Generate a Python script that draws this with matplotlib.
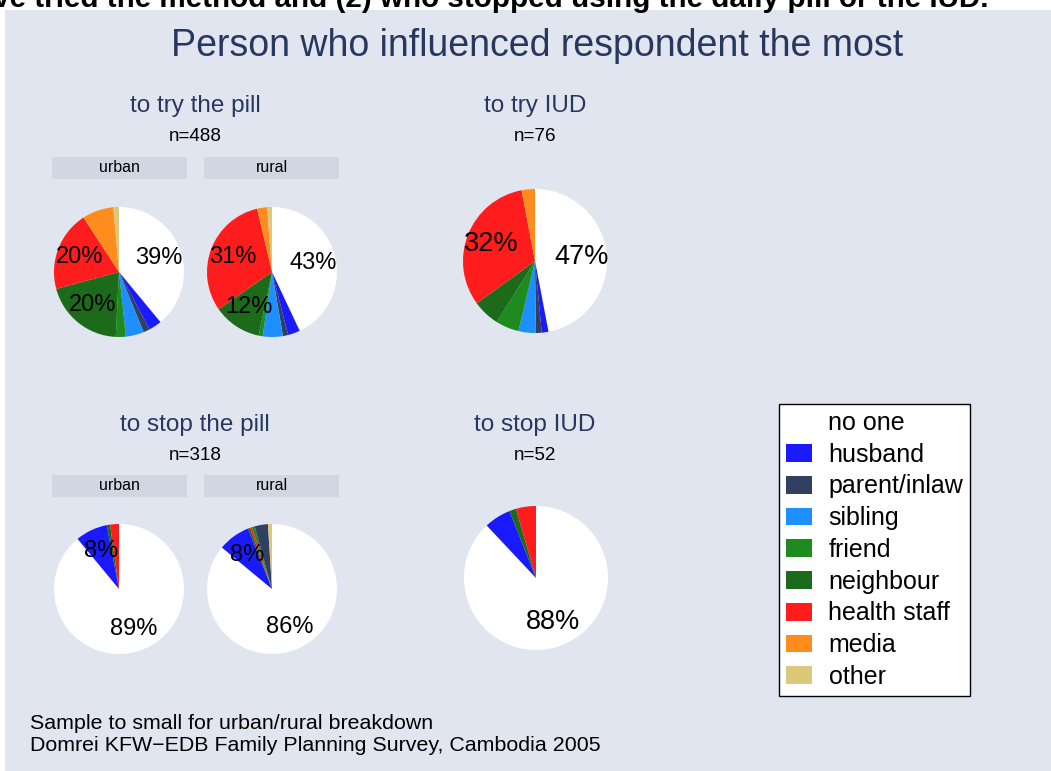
import matplotlib
matplotlib.use("Agg")
import numpy as np
import matplotlib.pyplot as plt
from matplotlib.patches import Patch, Rectangle

plt.rcParams['font.family'] = ['Liberation Sans', 'DejaVu Sans']

# influence categories and their colours
categories = ['no one', 'husband', 'parent/inlaw', 'sibling', 'friend',
              'neighbour', 'health staff', 'media', 'other']
cat_colors = ['#ffffff', '#1a1aff', '#313f63', '#1e8fff', '#1d8b1d',
              '#1b6b1b', '#ff1c1c', '#ff8c1c', '#dcc878']

# shares in percent, in the order of `categories`
try_pill_urban = [39, 3.2, 1.6, 4.5, 2.5, 20, 20, 7.8, 1.4]
try_pill_rural = [43, 3, 1.3, 5, 1, 12, 31, 2.5, 1.2]
try_iud = [47, 1.5, 1.3, 3.9, 5.2, 6.1, 32, 3.0, 0]
stop_pill_urban = [89, 8, 0, 0, 0, 0.8, 2.2, 0, 0]
stop_iud = [88, 6, 0, 0, 0, 1.5, 4.5, 0, 0]

# rural stoppers come out in a different slice order
stop_pill_rural_order = ['no one', 'husband', 'neighbour', 'health staff',
                         'friend', 'parent/inlaw', 'other']
stop_pill_rural = [86, 8, 0.5, 0.5, 0.7, 3.3, 1.0]

panel_titles = ['to try the pill', 'to try IUD', 'to stop the pill', 'to stop IUD']
panel_n = ['n=488', 'n=76', 'n=318', 'n=52']
strip_labels = ['urban', 'rural']

W, H = 1051, 771
BG = '#e0e5f0'
STRIP = '#d0d6e2'
NAVY = '#27375e'

fig = plt.figure(figsize=(W / 100, H / 100), dpi=100)
fig.patch.set_facecolor('white')


def fx(px):
    return px / W


def fy(py):
    return 1 - py / H


# cut-off heading above the panel
fig.text(fx(988), fy(7),
         'Women who (1) have tried the method and (2) who stopped using the daily pill or the IUD.',
         ha='right', va='baseline', fontsize=21.3, fontweight='bold', color='black')

fig.patches.append(Rectangle((fx(5), 0), 1 - fx(5), fy(9.5), transform=fig.transFigure,
                             facecolor=BG, edgecolor='none', zorder=-2))

fig.text(fx(537), fy(56), 'Person who influenced respondent the most',
         ha='center', va='baseline', fontsize=27, color=NAVY)


def draw_pie(cx, cy, r, values, order=categories, label_size=17):
    ax = fig.add_axes([fx(cx - r), fy(cy + r), 2 * r / W, 2 * r / H])
    cols = [cat_colors[categories.index(c)] for c in order]
    ax.pie(values, colors=cols, startangle=90, counterclock=False,
           radius=1, wedgeprops=dict(linewidth=0))
    ax.set_xlim(-1, 1)
    ax.set_ylim(-1, 1)
    ax.set_aspect('equal')
    ax.axis('off')
    total = sum(values)
    start = 90.0
    for v in values:
        sweep = 360.0 * v / total
        mid = np.deg2rad(start - sweep / 2)
        if v >= 8:
            ax.text(0.65 * np.cos(mid), 0.65 * np.sin(mid), f'{round(v)}%',
                    ha='center', va='center', fontsize=label_size, color='black')
        start -= sweep


def panel_heading(cx, top, title, n):
    fig.text(fx(cx), fy(top), title, ha='center', va='baseline', fontsize=17.5, color=NAVY)
    fig.text(fx(cx), fy(top + 29), n, ha='center', va='baseline', fontsize=13.6, color='black')


def strips(top):
    for (x0, x1), lab in zip([(52, 187), (204, 339)], strip_labels):
        fig.patches.append(Rectangle((fx(x0), fy(top + 22)), fx(x1 - x0), 22 / H,
                                     transform=fig.transFigure, facecolor=STRIP,
                                     edgecolor='none', zorder=-1))
        fig.text(fx((x0 + x1) / 2), fy(top + 11), lab, ha='center', va='center',
                 fontsize=11.5, color='black')


# top row: trying the method
panel_heading(195, 112, panel_titles[0], panel_n[0])
panel_heading(535, 112, panel_titles[1], panel_n[1])
strips(157)
draw_pie(119, 272, 65, try_pill_urban)
draw_pie(272, 272, 65, try_pill_rural)
draw_pie(535, 261, 72, try_iud, label_size=19.5)

# bottom row: stopping the method
panel_heading(195, 431, panel_titles[2], panel_n[2])
panel_heading(535, 431, panel_titles[3], panel_n[3])
strips(475)
draw_pie(119, 589, 65, stop_pill_urban)
draw_pie(272, 589, 65, stop_pill_rural, stop_pill_rural_order)
draw_pie(536, 578, 72, stop_iud, label_size=19.5)

handles = [Patch(facecolor=c, edgecolor='none') for c in cat_colors]
leg = fig.legend(handles, categories, loc='upper left',
                 bbox_to_anchor=(fx(779), fy(404)), borderaxespad=0,
                 fontsize=18, handlelength=1.05, handleheight=0.72,
                 handletextpad=0.65, labelspacing=0.31, borderpad=0.28,
                 fancybox=False, framealpha=1, edgecolor='black')
leg.get_frame().set_linewidth(1.0)

fig.text(fx(30), fy(729), 'Sample to small for urban/rural breakdown',
         ha='left', va='baseline', fontsize=15.4, color='black')
fig.text(fx(30), fy(751), 'Domrei KFW\u2212EDB Family Planning Survey, Cambodia 2005',
         ha='left', va='baseline', fontsize=15.4, color='black')

fig.savefig('out.png', dpi=100)
